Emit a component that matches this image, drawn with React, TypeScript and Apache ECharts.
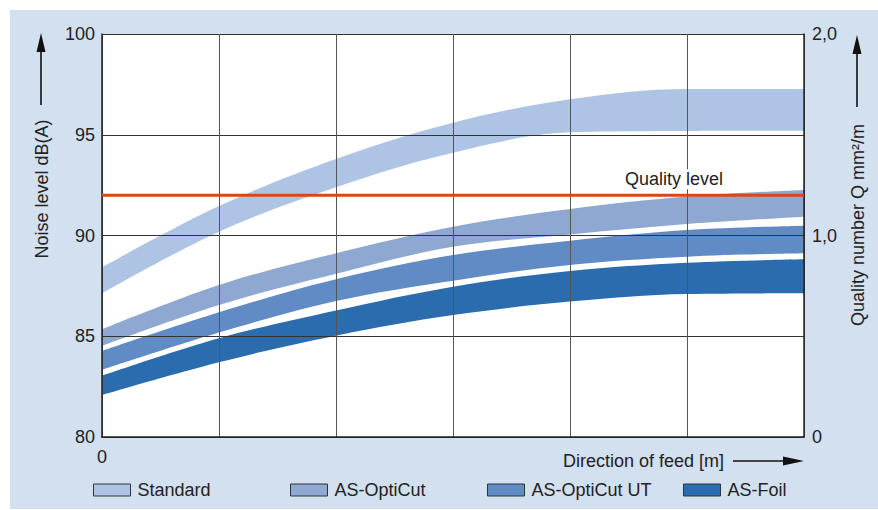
import React, { useEffect, useRef } from 'react';
import * as echarts from 'echarts';

const categories = ['0', '1', '2', '3', '4', '5', '6'];

const standardLow = [87.13, 90.19, 92.4, 94.11, 95.12, 95.19, 95.2];
const standardHigh = [88.42, 91.46, 93.8, 95.6, 96.76, 97.27, 97.27];
const optiCutLow = [84.52, 86.55, 88.1, 89.44, 90.05, 90.57, 90.93];
const optiCutHigh = [85.34, 87.54, 89.12, 90.44, 91.31, 91.93, 92.26];
const optiCutUTLow = [83.33, 85.18, 86.75, 87.76, 88.54, 88.95, 89.12];
const optiCutUTHigh = [84.27, 86.19, 87.83, 89.03, 89.74, 90.27, 90.49];
const foilLow = [82.08, 83.71, 85.03, 86.05, 86.72, 87.1, 87.13];
const foilHigh = [83.04, 84.9, 86.28, 87.46, 88.24, 88.65, 88.82];

const qualityLevel = 92;
const qualityLabel = 'Quality level';

const bandNames = ['Standard', 'AS-OptiCut', 'AS-OptiCut UT', 'AS-Foil'];
const bandColors = ['#aec4e4', '#8fa8d2', '#608bc4', '#2a6cae'];

export default function App() {
  const ref = useRef<HTMLDivElement>(null);

  useEffect(() => {
    if (!ref.current) return;
    const chart = echarts.init(ref.current, null, { renderer: 'svg' });
    const font = '"Liberation Sans", Arial, Helvetica, sans-serif';
    const txt = '#222';
    const fs = 18;

    const bands = [
      { low: standardLow, high: standardHigh },
      { low: optiCutLow, high: optiCutHigh },
      { low: optiCutUTLow, high: optiCutUTHigh },
      { low: foilLow, high: foilHigh },
    ];

    const series: any[] = [];
    bands.forEach((b, i) => {
      series.push({
        type: 'line',
        name: bandNames[i] + ' base',
        stack: 'band' + i,
        data: b.low,
        smooth: 0.35,
        symbol: 'none',
        silent: true,
        lineStyle: { width: 0, opacity: 0 },
        z: 2,
      });
      series.push({
        type: 'line',
        name: bandNames[i],
        stack: 'band' + i,
        data: b.high.map((v, j) => +(v - b.low[j]).toFixed(3)),
        smooth: 0.35,
        symbol: 'none',
        silent: true,
        lineStyle: { width: 0, opacity: 0 },
        itemStyle: { color: bandColors[i] },
        areaStyle: { color: bandColors[i], opacity: 1 },
        z: 2,
      });
    });
    series.push({
      type: 'line',
      name: qualityLabel,
      data: categories.map(() => qualityLevel),
      symbol: 'none',
      silent: true,
      lineStyle: { color: '#d84620', width: 3 },
      z: 5,
    });

    const legendLefts = [93, 290, 487, 683];
    const legends = bandNames.map((n, i) => ({
      data: [n],
      left: legendLefts[i],
      top: 481,
      padding: 0,
      icon: 'rect',
      itemWidth: 37,
      itemHeight: 12,
      selectedMode: false,
      itemStyle: { borderColor: '#333', borderWidth: 1 },
      textStyle: { fontFamily: font, fontSize: fs, color: txt, padding: [0, 0, 0, 2] },
    }));

    chart.setOption({
      animation: false,
      textStyle: { fontFamily: font },
      grid: {
        left: 102,
        top: 34,
        right: 74,
        bottom: 73,
        show: true,
        backgroundColor: '#ffffff',
        borderWidth: 0,
      },
      legend: legends,
      xAxis: {
        type: 'category',
        data: categories,
        boundaryGap: false,
        z: 3,
        axisLine: { show: true, lineStyle: { color: '#222', width: 1.5 } },
        axisTick: { show: false },
        axisLabel: {
          interval: 0,
          margin: 11,
          fontSize: fs,
          color: txt,
          fontFamily: font,
          formatter: (v: string, i: number) => (i === 0 ? v : ''),
        },
        splitLine: { show: true, lineStyle: { color: '#555', width: 1 } },
      },
      yAxis: [
        {
          type: 'value',
          min: 80,
          max: 100,
          interval: 5,
          z: 3,
          axisLine: { show: true, lineStyle: { color: '#222', width: 1.5 } },
          axisTick: { show: false },
          axisLabel: { margin: 7, fontSize: fs, color: txt, fontFamily: font },
          splitLine: { show: true, lineStyle: { color: '#333', width: 1 } },
        },
        {
          type: 'value',
          min: 0,
          max: 2,
          interval: 1,
          position: 'right',
          z: 3,
          axisLine: { show: true, lineStyle: { color: '#222', width: 1.5 } },
          axisTick: { show: false },
          splitLine: { show: false },
          axisLabel: {
            margin: 8,
            fontSize: fs,
            color: txt,
            fontFamily: font,
            formatter: (v: number) => (v === 0 ? '0' : v.toFixed(1).replace('.', ',')),
          },
        },
      ],
      series,
    });

    const p = chart.convertToPixel({ xAxisIndex: 0, yAxisIndex: 0 }, [5, qualityLevel]) as number[];

    const arrowUp = (x: number, tip: number, bottom: number) => [
      { type: 'line', z: 10, shape: { x1: x, y1: tip + 14, x2: x, y2: bottom }, style: { stroke: '#111', lineWidth: 1.6 } },
      { type: 'polygon', z: 10, shape: { points: [[x, tip], [x - 4.5, tip + 19], [x + 4.5, tip + 19]] }, style: { fill: '#111' } },
    ];

    chart.setOption({
      graphic: [
        ...arrowUp(41, 33, 105),
        {
          type: 'text',
          z: 10,
          x: 42,
          y: 189,
          rotation: Math.PI / 2,
          style: { text: 'Noise level dB(A)', font: `${fs}px ${font}`, fill: txt, align: 'center', verticalAlign: 'middle' },
        },
        ...arrowUp(857, 35, 107),
        {
          type: 'text',
          z: 10,
          x: 858,
          y: 225,
          rotation: Math.PI / 2,
          style: { text: 'Quality number Q mm²/m', font: `${fs}px ${font}`, fill: txt, align: 'center', verticalAlign: 'middle' },
        },
        {
          type: 'text',
          z: 10,
          x: 724,
          y: 461,
          style: { text: 'Direction of feed [m]', font: `${fs}px ${font}`, fill: txt, align: 'right', verticalAlign: 'middle' },
        },
        { type: 'line', z: 10, shape: { x1: 733, y1: 461, x2: 786, y2: 461 }, style: { stroke: '#111', lineWidth: 1.6 } },
        { type: 'polygon', z: 10, shape: { points: [[804, 461], [783, 456.5], [783, 465.5]] }, style: { fill: '#111' } },
        {
          type: 'text',
          z: 10,
          x: p[0] - 13,
          y: p[1] - 16,
          style: {
            text: qualityLabel,
            font: `${fs}px ${font}`,
            fill: txt,
            align: 'center',
            verticalAlign: 'middle',
            backgroundColor: '#ffffff',
            padding: [1, 3],
          },
        },
      ],
    });

    return () => chart.dispose();
  }, []);

  return (
    <div style={{ position: 'fixed', left: 0, top: 0, width: 878, height: 510, background: '#ffffff' }}>
      <div style={{ position: 'absolute', left: 10, top: 10, width: 868, height: 499, background: '#d3e0f0' }} />
      <div ref={ref} style={{ position: 'absolute', left: 0, top: 0, width: 878, height: 510 }} />
    </div>
  );
}
